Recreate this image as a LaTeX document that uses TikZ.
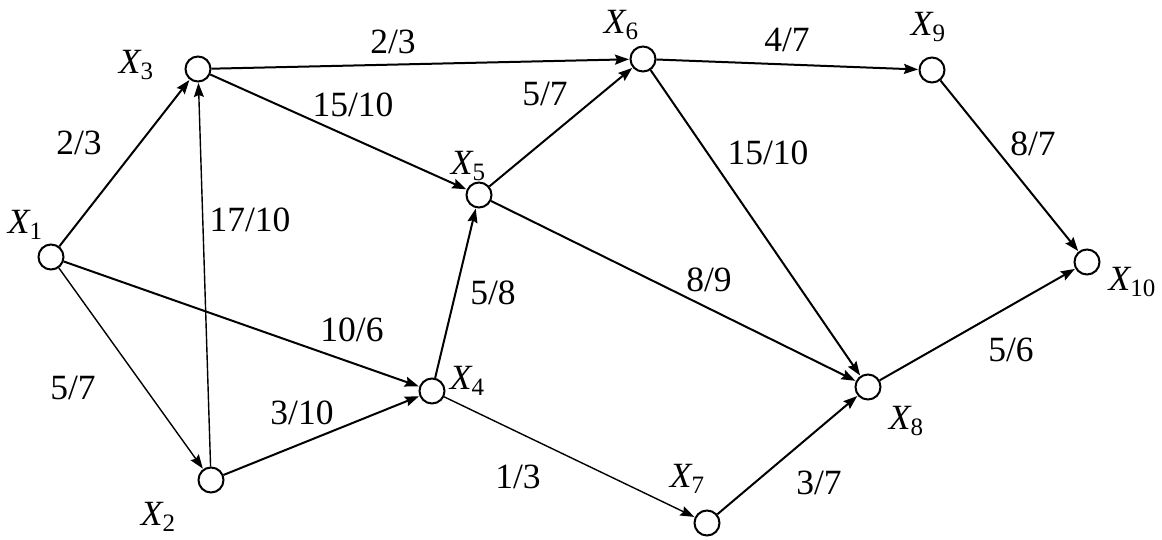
\documentclass[tikz,border=0pt]{standalone}
\usepackage{fontspec}
\setmainfont{Liberation Serif}
\newfontfamily\tnr{Liberation Serif}
\usetikzlibrary{arrows.meta}
\newcommand\xlab[1]{\textit{X}\kern-1pt\raisebox{-6pt}{\fontsize{25}{25}\selectfont #1}}
\tikzset{
  vert/.style={circle,draw,line width=2pt,minimum size=25pt,inner sep=0pt},
  lab/.style={inner sep=0pt,font=\tnr\fontsize{35.5}{40}\selectfont},
  edge/.style={line width=2pt,-{Stealth[length=14pt,width=10pt,inset=2pt]},shorten >=0.5pt},
  thinedge/.style={edge,line width=1.4pt}
}
\begin{document}
\begin{tikzpicture}[x=1pt,y=-1pt]
\useasboundingbox (0,0) rectangle (1162,540);
% vertices
\node[vert] (n1) at (51,257) {};
\node[vert] (n2) at (211,480) {};
\node[vert] (n3) at (198,69) {};
\node[vert] (n4) at (432,391) {};
\node[vert] (n5) at (479,195) {};
\node[vert] (n6) at (643,59) {};
\node[vert] (n7) at (707,523) {};
\node[vert] (n8) at (868,387) {};
\node[vert] (n9) at (932,70) {};
\node[vert] (n10) at (1087,262) {};
% vertex labels
\node[lab] (l1) at (25,225) {\xlab{1}};
\node[lab] (l2) at (158,517) {\xlab{2}};
\node[lab] (l3) at (136,65) {\xlab{3}};
\node[lab] (l4) at (467,381) {\xlab{4}};
\node[lab] (l5) at (468,166) {\xlab{5}};
\node[lab] (l6) at (621,25) {\xlab{6}};
\node[lab] (l7) at (687,479) {\xlab{7}};
\node[lab] (l8) at (906,421) {\xlab{8}};
\node[lab] (l9) at (928,27) {\xlab{9}};
\node[lab] (l10) at (1132,282) {\xlab{10}};
% edges
\draw[edge] (n1) -- (n3);
\draw[edge] (n1) -- (n4);
\draw[thinedge] (n1) -- (n2);
\draw[thinedge] (n2) -- (n3);
\draw[edge] (n2) -- (n4);
\draw[edge] (n3) -- (n6);
\draw[edge] (n3) -- (n5);
\draw[edge] (n4) -- (n5);
\draw[thinedge] (n4) -- (n7);
\draw[edge] (n5) -- (n6);
\draw[edge] (n5) -- (n8);
\draw[edge] (n6) -- (n9);
\draw[edge] (n6) -- (n8);
\draw[edge] (n7) -- (n8);
\draw[edge] (n9) -- (n10);
\draw[edge] (n8) -- (n10);
% edge labels
\node[lab] (e13) at (79,143) {2/3};
\node[lab] (e14) at (352,330) {10/6};
\node[lab] (e12) at (73,388) {5/7};
\node[lab] (e23) at (250,220) {17/10};
\node[lab] (e24) at (302,413) {3/10};
\node[lab] (e36) at (393,42) {2/3};
\node[lab] (e35) at (353,105) {15/10};
\node[lab] (e45) at (493,293) {5/8};
\node[lab] (e47) at (518,477) {1/3};
\node[lab] (e56) at (545,94) {5/7};
\node[lab] (e58) at (709,280) {8/9};
\node[lab] (e69) at (787,40) {4/7};
\node[lab] (e68) at (768,153) {15/10};
\node[lab] (e78) at (819,483) {3/7};
\node[lab] (e910) at (1033,144) {8/7};
\node[lab] (e810) at (1011,350) {5/6};
\end{tikzpicture}
\end{document}
